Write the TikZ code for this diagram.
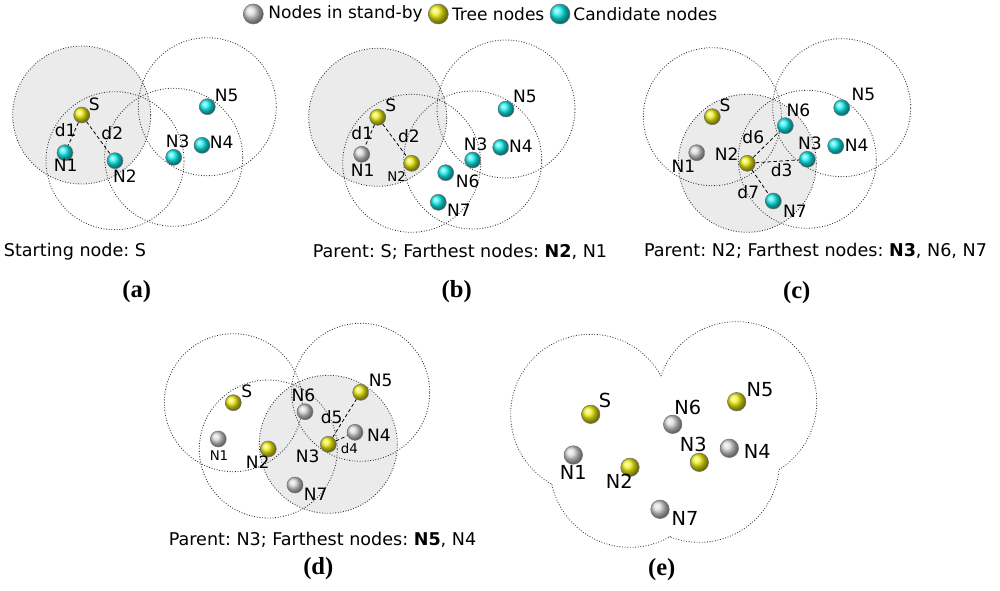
\documentclass[tikz,border=0pt]{standalone}
\usepackage{fontspec}
\setmainfont{DejaVu Sans}
\newfontfamily\panelfont{Liberation Serif}
\definecolor{treeyellow}{HTML}{EEEE10}
\definecolor{candcyan}{HTML}{10EEEE}
\definecolor{idlegray}{HTML}{D8D8D8}
\definecolor{rangefill}{HTML}{EBEBEB}
\frenchspacing

\begin{document}
\begin{tikzpicture}[x=0.02cm,y=0.02cm,font=\fontsize{9.7}{11}\selectfont]
  \tikzstyle{ball}=[circle, inner sep=0pt, minimum size=0.32cm, draw=black!55, line width=0.3pt, shading=ball]
  \tikzstyle{bigball}=[ball, minimum size=0.37cm]
  \tikzstyle{treenode}=[ball color=treeyellow]
  \tikzstyle{cand}=[ball color=candcyan]
  \tikzstyle{idle}=[ball color=idlegray]
  \tikzstyle{reach}=[densely dotted, line width=0.5pt, draw=black!80]
  \tikzstyle{covered}=[fill=rangefill]
  \tikzstyle{dist}=[dash pattern=on 2pt off 1.4pt, line width=0.45pt, draw=black]
  \tikzstyle{lbl}=[inner sep=0pt]
  \tikzstyle{smalllbl}=[lbl, font=\fontsize{7.6}{9}\selectfont]
  \tikzstyle{largelbl}=[lbl, font=\fontsize{11}{13}\selectfont]
  \tikzstyle{caption}=[inner sep=0pt, font=\fontsize{10}{12}\selectfont]
  \tikzstyle{panel}=[inner sep=0pt, font=\panelfont\bfseries\fontsize{14}{16}\selectfont]

  \path[use as bounding box] (0,0) rectangle (1000,-591);

  % legend
  \node[ball, idle, minimum size=0.4cm] (kidle) at (253.3,-14) {};
  \node[lbl, anchor=west] (tidle) at (268,-14) {Nodes in stand-by};
  \node[ball, treenode, minimum size=0.4cm] (ktree) at (438.3,-14) {};
  \node[lbl, anchor=west] (ttree) at (451.7,-14) {Tree nodes};
  \node[ball, cand, minimum size=0.4cm] (kcand) at (560,-14) {};
  \node[lbl, anchor=west] (tcand) at (573,-14) {Candidate nodes};

  % (a) starting node
  \coordinate (aS) at (81.7,-115);
  \coordinate (aN2) at (115,-160.7);
  \coordinate (aN3) at (173.7,-157.3);
  \coordinate (aN5) at (207.3,-106.7);
  \fill[covered] (aS) circle (69);
  \draw[reach] (aS) circle (69);
  \draw[reach] (aN2) circle (69);
  \draw[reach] (aN3) circle (69);
  \draw[reach] (aN5) circle (69);
  \node[ball, treenode] (aSb) at (aS) {};
  \node[ball, cand] (aN1b) at (65,-152.7) {};
  \node[ball, cand] (aN2b) at (aN2) {};
  \node[ball, cand] (aN3b) at (aN3) {};
  \node[ball, cand] (aN4b) at (202,-145.3) {};
  \node[ball, cand] (aN5b) at (aN5) {};
  \draw[dist] (aSb) -- (aN1b);
  \draw[dist] (aSb) -- (aN2b);
  \node[lbl] (aSl) at (94.3,-104) {S};
  \node[lbl] (aN1l) at (65.7,-165) {N1};
  \node[lbl] (aN2l) at (125,-175.7) {N2};
  \node[lbl] (aN3l) at (177.7,-141.7) {N3};
  \node[lbl] (aN4l) at (221.7,-142.7) {N4};
  \node[lbl] (aN5l) at (226.7,-95) {N5};
  \node[lbl] (ad1) at (65.7,-130) {d1};
  \node[lbl] (ad2) at (112.3,-133.3) {d2};
  \node[caption] (acap) at (75,-251.7) {Starting node: S};
  \node[panel] (apan) at (136.7,-292) {(a)};

  % (b) parent S
  \coordinate (bS) at (377.7,-117.3);
  \coordinate (bN2) at (411.7,-163.3);
  \coordinate (bN3) at (472.7,-160);
  \coordinate (bN5) at (506,-109);
  \fill[covered] (bS) circle (69);
  \draw[reach] (bS) circle (69);
  \draw[reach] (bN2) circle (69);
  \draw[reach] (bN3) circle (69);
  \draw[reach] (bN5) circle (69);
  \node[ball, treenode] (bSb) at (bS) {};
  \node[ball, idle] (bN1b) at (361.7,-154.3) {};
  \node[ball, treenode] (bN2b) at (bN2) {};
  \node[ball, cand] (bN3b) at (bN3) {};
  \node[ball, cand] (bN4b) at (500.7,-147.3) {};
  \node[ball, cand] (bN5b) at (bN5) {};
  \node[ball, cand] (bN6b) at (445.7,-172.7) {};
  \node[ball, cand] (bN7b) at (438.3,-202.3) {};
  \draw[dist] (bSb) -- (bN1b);
  \draw[dist] (bSb) -- (bN2b);
  \node[lbl] (bSl) at (390.7,-105) {S};
  \node[lbl] (bN1l) at (362.7,-170) {N1};
  \node[smalllbl] (bN2l) at (396.7,-176.7) {N2};
  \node[lbl] (bN3l) at (475.7,-144) {N3};
  \node[lbl] (bN4l) at (521,-146) {N4};
  \node[lbl] (bN5l) at (525,-96.7) {N5};
  \node[lbl] (bN6l) at (467.7,-181.7) {N6};
  \node[lbl] (bN7l) at (459,-210) {N7};
  \node[lbl] (bd1) at (362.3,-133.3) {d1};
  \node[lbl] (bd2) at (409,-136) {d2};
  \node[caption] (bcap) at (460,-251.7) {Parent: S; Farthest nodes: \textbf{N2}, N1};
  \node[panel] (bpan) at (456.7,-292) {(b)};

  % (c) parent N2
  \coordinate (cS) at (712.3,-116.7);
  \coordinate (cN2) at (747.3,-163.3);
  \coordinate (cN3) at (807.3,-159.3);
  \coordinate (cN5) at (841.7,-107.7);
  \fill[covered] (cN2) circle (69);
  \draw[reach] (cS) circle (69);
  \draw[reach] (cN2) circle (69);
  \draw[reach] (cN3) circle (69);
  \draw[reach] (cN5) circle (69);
  \node[ball, treenode] (cSb) at (cS) {};
  \node[ball, idle] (cN1b) at (696.7,-152.7) {};
  \node[ball, treenode] (cN2b) at (cN2) {};
  \node[ball, cand] (cN3b) at (cN3) {};
  \node[ball, cand] (cN4b) at (835.7,-146) {};
  \node[ball, cand] (cN5b) at (cN5) {};
  \node[ball, cand] (cN6b) at (785.3,-125.7) {};
  \node[ball, cand] (cN7b) at (773.3,-201) {};
  \draw[dist] (cN2b) -- (cN6b);
  \draw[dist] (cN2b) -- (cN3b);
  \draw[dist] (cN2b) -- (cN7b);
  \node[lbl] (cSl) at (725,-105) {S};
  \node[lbl] (cN1l) at (683.3,-166.7) {N1};
  \node[lbl] (cN2l) at (726.7,-154) {N2};
  \node[lbl] (cN3l) at (810,-143.3) {N3};
  \node[lbl] (cN4l) at (856.7,-145) {N4};
  \node[lbl] (cN5l) at (863.3,-94.3) {N5};
  \node[lbl] (cN6l) at (798.3,-110) {N6};
  \node[lbl] (cN7l) at (795,-211) {N7};
  \node[lbl] (cd6) at (753.3,-136.7) {d6};
  \node[lbl] (cd3) at (781.7,-170) {d3};
  \node[lbl] (cd7) at (748.3,-192.3) {d7};
  \node[caption] (ccap) at (815.5,-250.7) {Parent: N2; Farthest nodes: \textbf{N3}, N6, N7};
  \node[panel] (cpan) at (796.7,-293) {(c)};

  % (d) parent N3
  \coordinate (dS) at (233.3,-402.7);
  \coordinate (dN2) at (268.3,-449);
  \coordinate (dN3) at (328.3,-444.3);
  \coordinate (dN5) at (360.7,-392.3);
  \fill[covered] (dN3) circle (69);
  \draw[reach] (dS) circle (69);
  \draw[reach] (dN2) circle (69);
  \draw[reach] (dN3) circle (69);
  \draw[reach] (dN5) circle (69);
  \node[ball, treenode] (dSb) at (dS) {};
  \node[ball, idle] (dN1b) at (218.3,-439) {};
  \node[ball, treenode] (dN2b) at (dN2) {};
  \node[ball, treenode] (dN3b) at (dN3) {};
  \node[ball, idle] (dN4b) at (355,-432.3) {};
  \node[ball, treenode] (dN5b) at (dN5) {};
  \node[ball, idle] (dN6b) at (305,-411.7) {};
  \node[ball, idle] (dN7b) at (295,-485) {};
  \draw[dist] (dN3b) -- (dN5b);
  \draw[dist] (dN3b) -- (dN4b);
  \node[lbl] (dSl) at (246.7,-391.7) {S};
  \node[smalllbl] (dN1l) at (219,-455.7) {N1};
  \node[lbl] (dN2l) at (257.7,-461.7) {N2};
  \node[lbl] (dN3l) at (307.7,-456.7) {N3};
  \node[lbl] (dN4l) at (379,-435) {N4};
  \node[lbl] (dN5l) at (380.7,-380) {N5};
  \node[lbl] (dN6l) at (303.3,-395.7) {N6};
  \node[lbl] (dN7l) at (315.7,-494) {N7};
  \node[lbl] (dd5) at (331.7,-416.7) {d5};
  \node[smalllbl] (dd4) at (349.3,-449) {d4};
  \node[caption] (dcap) at (322.5,-540) {Parent: N3; Farthest nodes: \textbf{N5}, N4};
  \node[panel] (dpan) at (318.3,-568.3) {(d)};

  % (e) resulting tree, outline of the joined ranges
  \coordinate (eS) at (590.7,-414.3);
  \coordinate (eN2) at (630,-467.3);
  \coordinate (eN3) at (699.3,-462.3);
  \coordinate (eN5) at (736.7,-401.7);
  \draw[reach] (eS) circle (80);
  \draw[reach] (eN2) circle (80);
  \draw[reach] (eN3) circle (80);
  \draw[reach] (eN5) circle (80);
  \fill[white] (eS) circle (79.3);
  \fill[white] (eN2) circle (79.3);
  \fill[white] (eN3) circle (79.3);
  \fill[white] (eN5) circle (79.3);
  \node[bigball, treenode] (eSb) at (eS) {};
  \node[bigball, idle] (eN1b) at (573.3,-455) {};
  \node[bigball, treenode] (eN2b) at (eN2) {};
  \node[bigball, treenode] (eN3b) at (eN3) {};
  \node[bigball, idle] (eN4b) at (729.3,-448.3) {};
  \node[bigball, treenode] (eN5b) at (eN5) {};
  \node[bigball, idle] (eN6b) at (672.7,-424.3) {};
  \node[bigball, idle] (eN7b) at (660,-509.3) {};
  \node[largelbl] (eSl) at (605,-400.7) {S};
  \node[largelbl] (eN1l) at (573.3,-472.7) {N1};
  \node[largelbl] (eN2l) at (619.3,-481.7) {N2};
  \node[largelbl] (eN3l) at (693.3,-444.3) {N3};
  \node[largelbl] (eN4l) at (757.3,-451.7) {N4};
  \node[largelbl] (eN5l) at (760,-390) {N5};
  \node[largelbl] (eN6l) at (687.7,-407.3) {N6};
  \node[largelbl] (eN7l) at (685,-518.3) {N7};
  \node[panel] (epan) at (661.7,-569.3) {(e)};
\end{tikzpicture}
\end{document}
